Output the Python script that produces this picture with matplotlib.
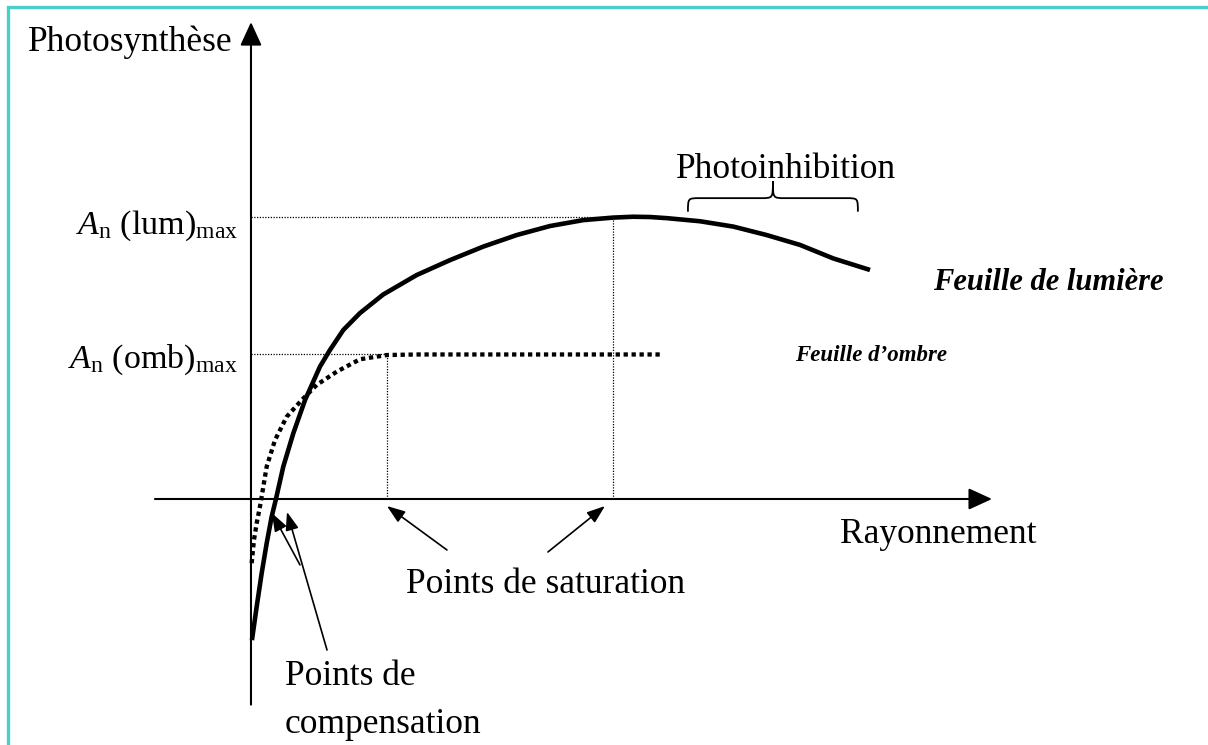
import matplotlib
matplotlib.use("Agg")
import matplotlib.pyplot as plt
from matplotlib.patches import Rectangle, PathPatch, ArrowStyle
from matplotlib.path import Path

plt.rcParams['font.family'] = ['Liberation Serif', 'DejaVu Serif']
plt.rcParams['mathtext.fontset'] = 'custom'
plt.rcParams['mathtext.rm'] = 'Liberation Serif'
plt.rcParams['mathtext.it'] = 'Liberation Serif:italic'

# light-leaf curve (radiation, net photosynthesis)
lum_x = [0.13, 0.77, 1.44, 2.12, 2.79, 3.37, 4.36, 5.71, 7.29, 9.31, 10.66,
         12.46, 14.71, 17.85, 22.36, 26.86, 31.35, 35.86, 40.35, 44.84, 48.89,
         51.59, 53.85, 56.10, 60.59, 65.09, 69.59, 74.09, 78.58, 83.54]
lum_y = [-50.1, -38.2, -26.4, -15.7, -6.3, 0.0, 11.5, 23.3, 35.1, 47.0, 52.9,
         60.0, 66.0, 72.6, 79.5, 84.8, 89.6, 93.7, 96.9, 99.0, 99.9,
         100.2, 100.1, 99.7, 98.6, 96.7, 93.7, 90.2, 85.4, 81.3]

# shade-leaf curve
omb_x = [0.09, 0.40, 0.77, 1.21, 1.44, 2.12, 3.24, 4.82, 6.84, 8.87, 11.57,
         14.71, 18.31, 22.36, 40.35, 55.20]
omb_y = [-22.8, -14.6, -8.6, -2.7, 0.8, 11.5, 20.9, 29.2, 35.1, 40.5, 45.2,
         49.6, 51.1, 51.3, 51.3, 51.3]

lum_max = 100.0
omb_max = 51.3
lum_sat = 48.85
omb_sat = 18.31
photoinhib = (58.97, 81.9)

fig = plt.figure(figsize=(12.08, 7.45), dpi=100)
ax = fig.add_axes([0, 0, 1, 1])
ax.set_xlim(-33.87, 129.15)
ax.set_ylim(-87.33, 177.14)
ax.axis('off')

# cyan frame (top and left edges visible)
fig.patches.append(Rectangle((8 / 1208, -0.1), 1.2, 1.1 - 7 / 745,
                             transform=fig.transFigure, fill=False,
                             edgecolor='#4ccfcb', lw=2.4))

# axes with arrow heads
axis_head = ArrowStyle('-|>', head_length=0.72, head_width=0.33)
ax.annotate('', xy=(100, 0), xytext=(-12.96, 0),
            arrowprops=dict(arrowstyle=axis_head, mutation_scale=20, lw=1.5,
                            color='black', shrinkA=0, shrinkB=0))
ax.annotate('', xy=(0, 169.3), xytext=(0, -73.0),
            arrowprops=dict(arrowstyle=axis_head, mutation_scale=20, lw=1.5,
                            color='black', shrinkA=0, shrinkB=0))

# reference dotted lines
thin_dot = dict(color='black', lw=0.9, linestyle=(0, (1, 1.2)))
ax.plot([0, lum_sat], [lum_max, lum_max], **thin_dot)
ax.plot([lum_sat, lum_sat], [0, lum_max], **thin_dot)
ax.plot([0, omb_sat], [omb_max, omb_max], **thin_dot)
ax.plot([omb_sat, omb_sat], [0, omb_max], **thin_dot)

# curves
ax.plot(lum_x, lum_y, color='black', lw=3.3, solid_capstyle='butt',
        solid_joinstyle='round')
ax.plot(omb_x, omb_y, color='black', lw=3.1, linestyle=(0, (1, 0.85)),
        dash_capstyle='butt')

# annotation arrows
ann_head = ArrowStyle('-|>', head_length=0.55, head_width=0.2)
arrow_kw = dict(arrowstyle=ann_head, mutation_scale=20, lw=1.2, color='black',
                shrinkA=0, shrinkB=0)
for tail, tip in [((26.45, -18.1), (18.35, -2.5)),
                  ((40.08, -18.8), (47.77, -2.5)),
                  ((6.61, -23.4), (2.83, -5.0)),
                  ((10.26, -53.6), (4.86, -4.6))]:
    ax.annotate('', xy=tip, xytext=tail, arrowprops=arrow_kw)

# photoinhibition brace
x0, x1 = photoinhib
xm = (x0 + x1) / 2
yb, yf, yt = 102.0, 106.8, 112.8
w = 1.6
verts = [(x0, yb), (x0, yf), (x0, yf), (x0 + w, yf),
         (xm - w, yf),
         (xm, yf), (xm, yf), (xm, yt),
         (xm, yf), (xm, yf), (xm + w, yf),
         (x1 - w, yf),
         (x1, yf), (x1, yf), (x1, yb)]
codes = [Path.MOVETO, Path.CURVE4, Path.CURVE4, Path.CURVE4,
         Path.LINETO,
         Path.CURVE4, Path.CURVE4, Path.CURVE4,
         Path.CURVE4, Path.CURVE4, Path.CURVE4,
         Path.LINETO,
         Path.CURVE4, Path.CURVE4, Path.CURVE4]
ax.add_patch(PathPatch(Path(verts, codes), fill=False, lw=1.3, color='black'))

# texts
fs = 25.5
ax.text(-30.1, 159.0, 'Photosynthèse', fontsize=fs, ha='left', va='baseline')
ax.text(79.5, -15.6, 'Rayonnement', fontsize=fs, ha='left', va='baseline')
ax.text(39.7, -33.4, 'Points de saturation', fontsize=fs, ha='center',
        va='baseline')
ax.text(4.59, -66.0, 'Points de', fontsize=fs, ha='left', va='baseline')
ax.text(4.59, -83.1, 'compensation', fontsize=fs, ha='left', va='baseline')
ax.text(72.2, 114.0, 'Photoinhibition', fontsize=fs, ha='center', va='baseline')
ax.text(92.0, 74.2, 'Feuille de lumière', fontsize=22, fontweight='bold',
        fontstyle='italic', ha='left', va='baseline')
ax.text(73.4, 49.0, 'Feuille d\u2019ombre', fontsize=16.5, fontweight='bold',
        fontstyle='italic', ha='left', va='baseline')
ax.text(-1.75, 94.1, r'$A_\mathrm{n}$ (lum)$_\mathrm{max}$', fontsize=24.5,
        ha='right', va='baseline')
ax.text(-1.75, 46.5, r'$A_\mathrm{n}$ (omb)$_\mathrm{max}$', fontsize=24.5,
        ha='right', va='baseline')

fig.savefig('out.png', dpi=100)
